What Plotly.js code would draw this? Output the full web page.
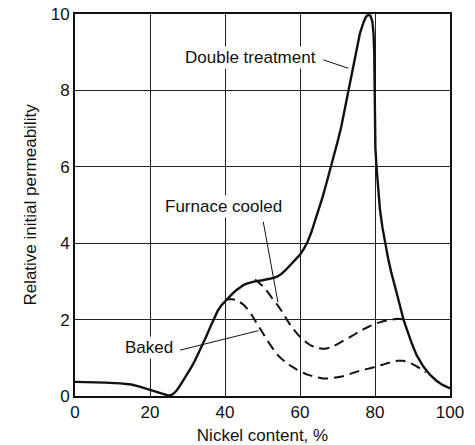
<!DOCTYPE html>
<html>
<head>
<meta charset="utf-8">
<script src="https://cdn.plot.ly/plotly-3.0.1.min.js"></script>
<style>html,body{margin:0;padding:0;background:#fff;}#chart{width:475px;height:445px;}</style>
</head>
<body>
<div id="chart"></div>
<script>
// Nickel content (%) and relative initial permeability
var doubleX = [0, 4, 8, 12, 15, 17, 19, 21, 23, 25, 26, 27, 28, 29, 30, 31, 32, 33, 34, 35, 36, 37, 38, 39, 40, 41, 42, 43, 44, 45, 46, 47, 48, 50, 52, 53, 54, 55, 56, 57, 58, 59, 60, 61, 62, 63, 64, 65, 66, 67, 68, 69, 70, 71, 72, 73, 74, 75, 76, 77, 77.6, 78.2, 78.8, 79.3, 79.6, 79.8, 79.95, 80.1, 80.4, 80.8, 81.3, 82, 82.7, 83.5, 84.3, 85.3, 86.3, 87.6, 88.6, 89.8, 91.1, 92.9, 94.7, 96.4, 98, 100];
var doubleY = [0.37, 0.365, 0.35, 0.33, 0.30, 0.25, 0.19, 0.12, 0.06, 0.01, 0.04, 0.13, 0.27, 0.42, 0.58, 0.75, 0.93, 1.13, 1.34, 1.56, 1.79, 2.02, 2.22, 2.37, 2.48, 2.58, 2.68, 2.77, 2.85, 2.91, 2.95, 2.98, 3.0, 3.03, 3.06, 3.09, 3.13, 3.19, 3.28, 3.38, 3.48, 3.58, 3.7, 3.85, 4.03, 4.28, 4.57, 4.88, 5.2, 5.55, 5.9, 6.27, 6.65, 7.05, 7.55, 8.05, 8.6, 9.05, 9.5, 9.8, 9.93, 9.98, 9.95, 9.8, 9.5, 9.0, 7.5, 6.5, 6.0, 5.4, 4.9, 4.4, 4.0, 3.6, 3.25, 2.9, 2.5, 2.0, 1.7, 1.38, 1.07, 0.77, 0.55, 0.4, 0.29, 0.2];

var furnaceX = [48, 49, 50, 51, 52, 53, 54, 55, 56, 57, 58, 59, 60, 61, 62, 63, 64, 65, 66, 67, 68, 69, 70, 72, 74, 76, 78, 80, 82, 84, 86, 88];
var furnaceY = [3.05, 2.97, 2.88, 2.77, 2.64, 2.5, 2.38, 2.24, 2.08, 1.92, 1.78, 1.66, 1.55, 1.46, 1.38, 1.32, 1.28, 1.25, 1.24, 1.245, 1.27, 1.31, 1.36, 1.47, 1.58, 1.7, 1.8, 1.89, 1.95, 1.99, 2.02, 2.0];

var bakedX = [40, 41, 42, 43, 44, 45, 46, 47, 48, 49, 50, 51, 52, 53, 54, 55, 56, 57, 58, 59, 60, 62, 64, 66, 68, 70, 72, 74, 76, 78, 80, 82, 84, 86, 87.5, 89, 90.5, 92, 93.5];
var bakedY = [2.5, 2.53, 2.53, 2.51, 2.46, 2.38, 2.27, 2.14, 1.98, 1.82, 1.66, 1.5, 1.35, 1.21, 1.08, 0.98, 0.9, 0.82, 0.76, 0.7, 0.65, 0.56, 0.5, 0.46, 0.46, 0.49, 0.53, 0.6, 0.66, 0.71, 0.76, 0.82, 0.88, 0.92, 0.92, 0.88, 0.81, 0.72, 0.62];

var xTicks = [0, 20, 40, 60, 80, 100];
var yTicks = [0, 2, 4, 6, 8, 10];

var FONT = 'Liberation Sans, Arial, Helvetica, sans-serif';

var traces = [
  {x: doubleX, y: doubleY, mode: 'lines', line: {color: '#111', width: 2.4, shape: 'linear'}, hoverinfo: 'skip'},
  {x: furnaceX, y: furnaceY, mode: 'lines', line: {color: '#111', width: 2, dash: '10px,6px', shape: 'spline', smoothing: 0.5}, hoverinfo: 'skip'},
  {x: bakedX, y: bakedY, mode: 'lines', line: {color: '#111', width: 2, dash: '10px,6px', shape: 'spline', smoothing: 0.5}, hoverinfo: 'skip'}
];

var layout = {
  width: 475, height: 445,
  margin: {l: 75, r: 25, t: 14, b: 49, pad: 0},
  paper_bgcolor: '#fff', plot_bgcolor: '#fff',
  showlegend: false,
  font: {family: FONT, size: 17, color: '#111'},
  xaxis: {
    range: [0, 100], tickvals: xTicks, ticktext: xTicks.map(String),
    showgrid: true, gridcolor: '#222', gridwidth: 1,
    showline: true, linecolor: '#111', linewidth: 2, mirror: true,
    ticks: '', zeroline: false, fixedrange: true,
    tickfont: {family: FONT, size: 17, color: '#111'},
    title: {text: 'Nickel content, %', font: {family: FONT, size: 17, color: '#111'}, standoff: 8}
  },
  yaxis: {
    range: [0, 10], tickvals: yTicks, ticktext: yTicks.map(String),
    showgrid: true, gridcolor: '#222', gridwidth: 1,
    showline: true, linecolor: '#111', linewidth: 2, mirror: true,
    ticks: '', zeroline: false, fixedrange: true,
    tickfont: {family: FONT, size: 17, color: '#111'},
    title: {text: 'Relative initial permeability', font: {family: FONT, size: 17, color: '#111'}, standoff: 10}
  },
  annotations: [
    {x: 46.9, y: 8.85, xref: 'x', yref: 'y', text: 'Double treatment', showarrow: false, font: {family: FONT, size: 17, color: '#111'}, bgcolor: '#fff'},
    {x: 39.7, y: 4.95, xref: 'x', yref: 'y', text: 'Furnace cooled', showarrow: false, font: {family: FONT, size: 17, color: '#111'}, bgcolor: '#fff'},
    {x: 19.6, y: 1.26, xref: 'x', yref: 'y', text: 'Baked', showarrow: false, font: {family: FONT, size: 17, color: '#111'}, bgcolor: '#fff'}
  ],
  shapes: [
    {type: 'line', xref: 'x', yref: 'y', x0: 66.2, y0: 8.8, x1: 72.9, y1: 8.58, line: {color: '#111', width: 1}},
    {type: 'line', xref: 'x', yref: 'y', x0: 50.2, y0: 4.56, x1: 54.1, y1: 2.46, line: {color: '#111', width: 1}},
    {type: 'line', xref: 'x', yref: 'y', x0: 28.0, y0: 1.2, x1: 48.9, y1: 1.71, line: {color: '#111', width: 1}}
  ]
};

Plotly.newPlot('chart', traces, layout, {staticPlot: true, displayModeBar: false});
</script>
</body>
</html>
